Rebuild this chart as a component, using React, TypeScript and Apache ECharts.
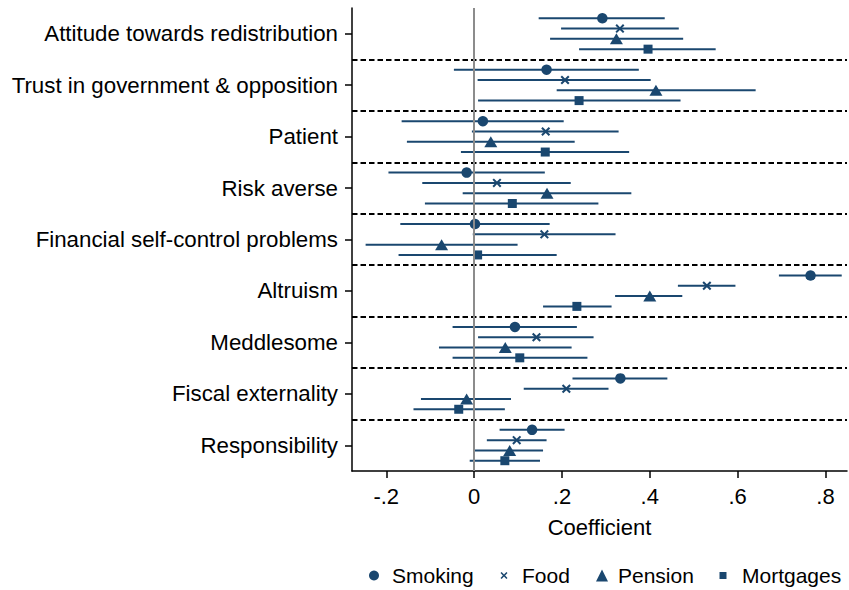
import React, { useEffect, useRef } from "react";
import * as echarts from "echarts";

const categories = [
  "Attitude towards redistribution",
  "Trust in government & opposition",
  "Patient",
  "Risk averse",
  "Financial self-control problems",
  "Altruism",
  "Meddlesome",
  "Fiscal externality",
  "Responsibility",
];

const seriesNames = ["Smoking", "Food", "Pension", "Mortgages"];

const smokingCoef = [0.292, 0.165, 0.02, -0.017, 0.002, 0.766, 0.093, 0.333, 0.132];
const smokingLo = [0.147, -0.046, -0.165, -0.195, -0.168, 0.694, -0.049, 0.224, 0.058];
const smokingHi = [0.434, 0.375, 0.204, 0.161, 0.172, 0.837, 0.234, 0.44, 0.206];

const foodCoef = [0.332, 0.207, 0.163, 0.052, 0.16, 0.53, 0.142, 0.21, 0.097];
const foodLo = [0.198, 0.008, -0.005, -0.118, -0.003, 0.464, 0.009, 0.113, 0.029];
const foodHi = [0.466, 0.402, 0.329, 0.22, 0.322, 0.595, 0.272, 0.306, 0.165];

const pensionCoef = [0.324, 0.414, 0.038, 0.166, -0.074, 0.4, 0.071, -0.017, 0.081];
const pensionLo = [0.173, 0.188, -0.153, -0.026, -0.247, 0.321, -0.08, -0.121, 0.002];
const pensionHi = [0.476, 0.641, 0.229, 0.358, 0.099, 0.474, 0.222, 0.084, 0.157];

const mortgagesCoef = [0.396, 0.239, 0.162, 0.087, 0.008, 0.234, 0.104, -0.035, 0.07];
const mortgagesLo = [0.239, 0.009, -0.03, -0.112, -0.172, 0.157, -0.049, -0.138, -0.01];
const mortgagesHi = [0.55, 0.47, 0.353, 0.283, 0.188, 0.313, 0.258, 0.07, 0.15];

const xTicks = [-0.2, 0, 0.2, 0.4, 0.6, 0.8];

const COLOR = "#1a476f";
const FONT = "Liberation Sans, Arial, sans-serif";
const X_PATH =
  "path://M1.6,0 L5,3.4 L8.4,0 L10,1.6 L6.6,5 L10,8.4 L8.4,10 L5,6.6 L1.6,10 L0,8.4 L3.4,5 L0,1.6 Z";

const groups = [
  { name: "Smoking", coef: smokingCoef, lo: smokingLo, hi: smokingHi, symbol: "circle", size: 10.5 as any },
  { name: "Food", coef: foodCoef, lo: foodLo, hi: foodHi, symbol: X_PATH, size: 9 as any },
  { name: "Pension", coef: pensionCoef, lo: pensionLo, hi: pensionHi, symbol: "triangle", size: [13, 11] as any },
  { name: "Mortgages", coef: mortgagesCoef, lo: mortgagesLo, hi: mortgagesHi, symbol: "rect", size: 9 as any },
];

// legend layout: icon left edge, icon size, extra gap before text
const legendLayout = [
  { left: 369, size: 10, pad: 8 },
  { left: 500.5, size: 7, pad: 9.5 },
  { left: 596, size: 12, pad: 5 },
  { left: 719.5, size: 7, pad: 10.5 },
];

function fmtTick(v: number): string {
  if (Math.abs(v) < 1e-9) return "0";
  return v.toFixed(1).replace("0.", ".");
}

export default function App() {
  const ref = useRef<HTMLDivElement>(null);

  useEffect(() => {
    if (!ref.current) return;
    const chart = echarts.init(ref.current, null, { renderer: "svg" });
    const n = categories.length;
    const offsets = [-0.3, -0.1, 0.1, 0.3];

    const separators = [] as any[];
    for (let i = 1; i < n; i++) {
      separators.push({
        yAxis: i + 0.5,
        lineStyle: { color: "#000", type: [5.5, 3], width: 2 },
      });
    }

    const series: any[] = [];
    series.push({
      type: "scatter",
      name: "_lines",
      xAxisIndex: 0,
      yAxisIndex: 1,
      data: [],
      silent: true,
      z: 1,
      markLine: {
        silent: true,
        symbol: "none",
        label: { show: false },
        animation: false,
        data: [
          ...separators,
          { xAxis: 0, lineStyle: { color: "#8c8c8c", type: "solid", width: 2 } },
        ],
      },
    });

    groups.forEach((g, gi) => {
      const barData = g.coef.map((_, i) => [g.lo[i], g.hi[i], i + 1 + offsets[gi]]);
      series.push({
        type: "custom",
        name: "_ci_" + g.name,
        xAxisIndex: 0,
        yAxisIndex: 1,
        z: 2,
        silent: true,
        data: barData,
        encode: { x: [0, 1], y: 2 },
        renderItem: (params: any, api: any) => {
          const y = api.value(2);
          const p1 = api.coord([api.value(0), y]);
          const p2 = api.coord([api.value(1), y]);
          return {
            type: "line",
            shape: { x1: p1[0], y1: p1[1], x2: p2[0], y2: p2[1] },
            style: { stroke: COLOR, lineWidth: 2 },
          };
        },
      });
    });

    groups.forEach((g, gi) => {
      series.push({
        type: "scatter",
        name: g.name,
        xAxisIndex: 0,
        yAxisIndex: 1,
        z: 3,
        symbol: g.symbol,
        symbolSize: g.size,
        itemStyle: { color: COLOR, opacity: 1 },
        data: g.coef.map((v, i) => [v, i + 1 + offsets[gi]]),
      });
    });

    const legends = seriesNames.map((name, i) => ({
      data: [name],
      left: legendLayout[i].left,
      top: 576 - 11,
      padding: 0,
      itemWidth: legendLayout[i].size,
      itemHeight: legendLayout[i].size,
      selectedMode: false,
      textStyle: {
        fontSize: 21,
        color: "#000",
        fontFamily: FONT,
        padding: [0, 0, 0, legendLayout[i].pad],
      },
    }));

    chart.setOption({
      animation: false,
      textStyle: { fontFamily: FONT },
      grid: { left: 352, top: 8, width: 495, height: 463, containLabel: false },
      legend: legends,
      xAxis: {
        type: "value",
        min: -0.278,
        max: 0.849,
        axisLine: { show: true, onZero: false, lineStyle: { color: "#000", width: 1.5 } },
        axisTick: { show: true, customValues: xTicks, length: 7, lineStyle: { color: "#000", width: 1.5 } },
        axisLabel: {
          customValues: xTicks,
          formatter: (v: number) => fmtTick(v),
          fontSize: 22,
          color: "#000",
          margin: 14,
          fontFamily: FONT,
        },
        splitLine: { show: false },
        name: "Coefficient",
        nameLocation: "middle",
        nameGap: 45,
        nameTextStyle: { fontSize: 22, color: "#000", fontFamily: FONT },
      },
      yAxis: [
        {
          type: "category",
          data: categories,
          inverse: true,
          boundaryGap: true,
          axisLine: { show: true, onZero: false, lineStyle: { color: "#000", width: 1.5 } },
          axisTick: { show: true, alignWithLabel: true, length: 7, lineStyle: { color: "#000", width: 1.5 } },
          axisLabel: { fontSize: 22.3, color: "#000", margin: 14, fontFamily: FONT, interval: 0 },
          splitLine: { show: false },
        },
        {
          type: "value",
          min: 0.5,
          max: 9.5,
          inverse: true,
          show: false,
          splitLine: { show: false },
        },
      ],
      series,
    });

    return () => chart.dispose();
  }, []);

  return (
    <div
      ref={ref}
      style={{ position: "absolute", left: 0, top: 0, width: 849, height: 590, background: "#fff" }}
    />
  );
}
